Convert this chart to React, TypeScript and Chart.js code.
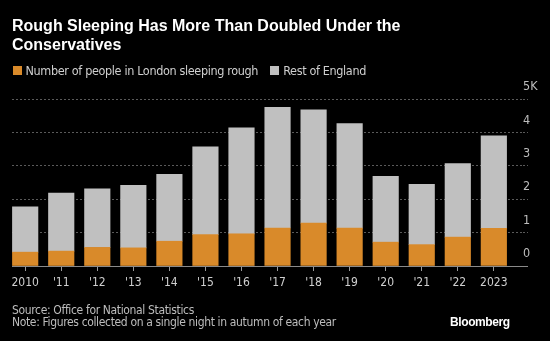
import React, { useEffect, useRef } from "react";
import { Chart, registerables } from "chart.js";

Chart.register(...registerables);

const years = ["2010", "'11", "'12", "'13", "'14", "'15", "'16", "'17", "'18", "'19", "'20", "'21", "'22", "2023"];
const londonValues = [415, 446, 557, 543, 742, 940, 964, 1137, 1283, 1136, 714, 640, 865, 1125];
const restOfEnglandValues = [1353, 1735, 1752, 1871, 2002, 2629, 3170, 3614, 3394, 3130, 1974, 1803, 2204, 2773];
const yTickValues = [0, 1000, 2000, 3000, 4000, 5000];
const yTickLabels = ["0", "1", "2", "3", "4", "5K"];

const seriesNames = ["Number of people in London sleeping rough", "Rest of England"];
const ORANGE = "#d98a2a";
const GREY = "#c0c0c0";
const NARROW = '"DejaVu Sans Condensed", "DejaVu Sans", sans-serif';
const BOLD = '"Liberation Sans", "DejaVu Sans", Arial, sans-serif';

export default function App() {
  const ref = useRef<HTMLCanvasElement | null>(null);

  useEffect(() => {
    document.body.style.margin = "0";
    document.body.style.background = "#000";
    const canvas = ref.current;
    if (!canvas) return;
    const chart = new Chart(canvas, {
      type: "bar",
      data: {
        datasets: [
          {
            label: seriesNames[0],
            data: years.map((_, i) => ({ x: i, y: londonValues[i] })),
            backgroundColor: ORANGE,
            barThickness: 25.5,
            borderWidth: 0,
          },
          {
            label: seriesNames[1],
            data: years.map((_, i) => ({ x: i, y: restOfEnglandValues[i] })),
            backgroundColor: GREY,
            barThickness: 25.5,
            borderWidth: 0,
          },
        ],
      },
      options: {
        animation: false,
        responsive: false,
        maintainAspectRatio: false,
        layout: { padding: { left: 12, right: 0, top: 99, bottom: 45 } },
        plugins: {
          legend: { display: false },
          tooltip: { enabled: false },
          title: { display: false },
        },
        scales: {
          x: {
            type: "linear",
            stacked: true,
            offset: false,
            min: -0.366,
            max: 13.809,
            afterBuildTicks: (s: any) => {
              s.ticks = years.map((_, i) => ({ value: i }));
            },
            afterFit: (s: any) => {
              s.height = 30;
            },
            ticks: {
              callback: (v: any) => years[v],
              autoSkip: false,
              maxRotation: 0,
              minRotation: 0,
              color: "#cfcfcf",
              padding: 5,
              font: { family: NARROW, size: 12 },
            },
            grid: { offset: false, drawOnChartArea: false, drawTicks: true, tickLength: 5, color: "#9a9a9a" },
            border: { display: true, color: "#8a8a8a", width: 1 },
          },
          y: {
            position: "right",
            stacked: true,
            min: 0,
            max: 5000,
            afterBuildTicks: (s: any) => {
              s.ticks = yTickValues.map((v) => ({ value: v }));
            },
            afterFit: (s: any) => {
              s.width = 27;
            },
            ticks: {
              callback: (_v: any, i: number) => yTickLabels[i],
              labelOffset: -12,
              padding: -5,
              color: "#bdbdbd",
              font: { family: NARROW, size: 12.5 },
            },
            grid: {
              drawTicks: true,
              tickLength: 5,
              color: (ctx: any) => (ctx.tick && ctx.tick.value === 0 ? "rgba(0,0,0,0)" : "#5a5a5a"),
              tickColor: (ctx: any) => (ctx.tick && ctx.tick.value === 0 ? "#8a8a8a" : "#5a5a5a"),
              tickBorderDash: (ctx: any) => (ctx.tick && ctx.tick.value === 0 ? [] : [2, 2]),
              lineWidth: 1,
            },
            border: { display: false, dash: [2, 2] },
          },
        },
      },
    } as any);
    return () => chart.destroy();
  }, []);

  return (
    <div style={{ position: "relative", width: 550, height: 341, background: "#000", overflow: "hidden" }}>
      <canvas ref={ref} width={550} height={341} style={{ position: "absolute", left: 0, top: 0, width: 550, height: 341 }} />
      <div
        style={{
          position: "absolute",
          left: 12,
          top: 16,
          width: 520,
          color: "#fff",
          fontFamily: BOLD,
          fontWeight: 700,
          fontSize: 16,
          lineHeight: "19px",
        }}
      >
        Rough Sleeping Has More Than Doubled Under the
        <br />
        Conservatives
      </div>
      <div
        style={{
          position: "absolute",
          left: 12.5,
          top: 63,
          display: "flex",
          alignItems: "center",
          fontFamily: NARROW,
          fontSize: 12.5,
          letterSpacing: "-0.35px",
          color: "#cfcfcf",
          whiteSpace: "nowrap",
        }}
      >
        <span style={{ display: "inline-block", width: 9, height: 9, background: ORANGE, marginRight: 4 }} />
        <span style={{ marginRight: 12 }}>{seriesNames[0]}</span>
        <span style={{ display: "inline-block", width: 9, height: 9, background: GREY, marginRight: 4 }} />
        <span>{seriesNames[1]}</span>
      </div>
      <div
        style={{
          position: "absolute",
          left: 12,
          top: 305,
          fontFamily: NARROW,
          fontSize: 12,
          letterSpacing: "-0.35px",
          lineHeight: "11.6px",
          color: "#bdbdbd",
          whiteSpace: "nowrap",
        }}
      >
        Source: Office for National Statistics
        <br />
        Note: Figures collected on a single night in autumn of each year
      </div>
      <div
        style={{
          position: "absolute",
          left: 450,
          top: 315,
          fontFamily: BOLD,
          fontWeight: 700,
          fontSize: 12,
          letterSpacing: "-0.4px",
          color: "#fff",
          whiteSpace: "nowrap",
        }}
      >
        Bloomberg
      </div>
    </div>
  );
}
